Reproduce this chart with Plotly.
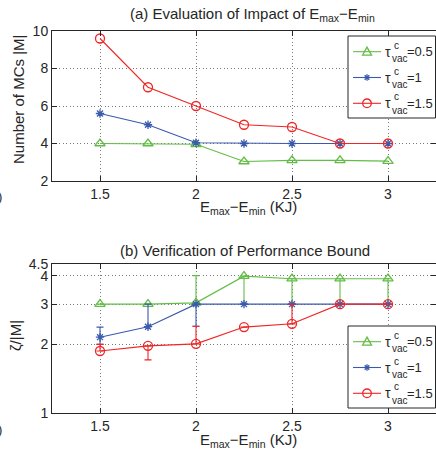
import plotly.graph_objects as go

# ---------------- data ----------------
x_vals = [1.5, 1.75, 2.0, 2.25, 2.5, 2.75, 3.0]
x_ticks = [1.5, 2.0, 2.5, 3.0]
x_ticktext = ["1.5", "2", "2.5", "3"]

# (a) number of MCs |M|
top_green = [4.0, 4.0, 3.96, 3.04, 3.1, 3.1, 3.06]
top_blue = [5.6, 5.0, 4.04, 4.0, 4.0, 4.0, 4.0]
top_red = [9.6, 7.0, 6.0, 5.0, 4.88, 4.0, 4.0]
top_yticks = [2, 4, 6, 8, 10]

# (b) zeta/|M| with asymmetric error bars
bot_green = [3.0, 3.0, 3.04, 3.98, 3.88, 3.88, 3.88]
bot_green_up = [0, 0, 0.96, 0, 0, 0, 0]
bot_green_dn = [0, 0, 0, 0.98, 0.88, 0.88, 0.88]
bot_blue = [2.15, 2.39, 3.0, 3.0, 3.0, 3.0, 3.0]
bot_blue_up = [0.23, 0.61, 0, 0, 0, 0, 0]
bot_blue_dn = [0.15, 0, 0.6, 0, 0, 0, 0]
bot_red = [1.87, 1.97, 2.01, 2.38, 2.46, 3.0, 3.0]
bot_red_up = [0.13, 0, 0.39, 0, 0.54, 0, 0]
bot_red_dn = [0, 0.26, 0, 0, 0, 0, 0]
bot_yticks = [1, 2, 3, 4, 4.5]
bot_yticktext = ["1", "2", "3", "4", "4.5"]

legend_values = ["0.5", "1", "1.5"]

# ---------------- style ----------------
W, H = 436, 455
FONT = "Liberation Sans, Arial, Helvetica, sans-serif"
GREEN = "#62bd45"
BLUE = "#3a5aad"
RED = "#f02525"
COLORS = [GREEN, BLUE, RED]
SYMBOLS = ["triangle-up-open", "asterisk-open", "circle-open"]
SIZES = [9, 7, 9]

def px(x):
    return x / W

def py(y):
    return 1 - y / H

fig = go.Figure()

top_series = [top_green, top_blue, top_red]
for ys, c, s, sz in zip(top_series, COLORS, SYMBOLS, SIZES):
    fig.add_trace(go.Scatter(
        x=x_vals, y=ys, mode="lines+markers", xaxis="x", yaxis="y",
        line=dict(color=c, width=1.1),
        marker=dict(symbol=s, size=sz, color=c, line=dict(color=c, width=1.3)),
        showlegend=False, hoverinfo="skip"))

bot_series = [(bot_green, bot_green_up, bot_green_dn),
              (bot_blue, bot_blue_up, bot_blue_dn),
              (bot_red, bot_red_up, bot_red_dn)]
for (ys, up, dn), c, s, sz in zip(bot_series, COLORS, SYMBOLS, SIZES):
    fig.add_trace(go.Scatter(
        x=x_vals, y=ys, mode="lines+markers", xaxis="x2", yaxis="y2",
        line=dict(color=c, width=1.1),
        marker=dict(symbol=s, size=sz, color=c, line=dict(color=c, width=1.3)),
        error_y=dict(type="data", symmetric=False, array=up, arrayminus=dn,
                     color=c, thickness=1.1, width=3.5),
        showlegend=False, hoverinfo="skip"))

axis_common = dict(
    showline=True, linecolor="#262626", linewidth=1, mirror="ticks",
    ticks="inside", ticklen=5, tickcolor="#262626", tickwidth=1,
    showgrid=True, gridcolor="#7a7a7a", gridwidth=1, griddash="1px,2.5px",
    zeroline=False, automargin=False,
    tickfont=dict(family=FONT, size=14, color="#262626"),
)

top_dom = [py(181), py(31)]
bot_dom = [py(413), py(264)]
x_dom = [px(52), 1.0]

fig.update_layout(
    width=W, height=H, autosize=False,
    margin=dict(l=0, r=0, t=0, b=0, pad=0, autoexpand=False),
    paper_bgcolor="white", plot_bgcolor="rgba(0,0,0,0)",
    font=dict(family=FONT, color="#262626"),
    xaxis=dict(domain=x_dom, range=[1.25, 3.25], anchor="y",
               tickvals=x_ticks, ticktext=x_ticktext, **axis_common),
    yaxis=dict(domain=top_dom, range=[2, 10], anchor="x",
               tickvals=top_yticks, **axis_common),
    xaxis2=dict(domain=x_dom, range=[1.25, 3.25], anchor="y2",
                tickvals=x_ticks, ticktext=x_ticktext, **axis_common),
    yaxis2=dict(domain=bot_dom, type="log", range=[0, 0.6532125], anchor="x2",
                tickvals=bot_yticks, ticktext=bot_yticktext, **axis_common),
)

annotations = []
shapes = []

def text(x, y, t, size, xanchor="center", yanchor="middle", angle=0):
    annotations.append(dict(
        x=px(x), y=py(y), xref="paper", yref="paper", text=t, showarrow=False,
        xanchor=xanchor, yanchor=yanchor, textangle=angle,
        font=dict(family=FONT, size=size, color="#262626")))

# titles
text(252, 15, "(a) Evaluation of Impact of E<sub>max</sub>−E<sub>min</sub>", 15)
text(245, 250, "(b) Verification of Performance Bound", 15)
text(248, 208, "E<sub>max</sub>−E<sub>min</sub> (KJ)", 15)
text(248, 440, "E<sub>max</sub>−E<sub>min</sub> (KJ)", 15)
text(18, 100, "Number of MCs |M|", 15, angle=-90)
text(15, 336, "ζ/|M|", 15, angle=-90)
# clipped fragments at the left edge
text(0, 196, ")", 13)
text(0, 429, ")", 13)

# custom legends (stacked super/subscript)
for top in (36, 326):
    shapes.append(dict(type="rect", xref="paper", yref="paper",
                       x0=px(348), x1=px(435.5), y0=py(top), y1=py(top + 82),
                       line=dict(color="#262626", width=1), fillcolor="white",
                       layer="above"))
    for i, (c, val) in enumerate(zip(COLORS, legend_values)):
        yc = top + 15.7 + 25.8 * i
        shapes.append(dict(type="line", xref="paper", yref="paper",
                           x0=px(353), x1=px(381), y0=py(yc), y1=py(yc),
                           line=dict(color=c, width=1.1), layer="above"))
        mx = 367
        if i == 0:
            shapes.append(dict(type="path", xref="paper", yref="paper",
                               path=f"M {px(mx-4.5)},{py(yc+3.5)} L {px(mx)},{py(yc-4.5)} L {px(mx+4.5)},{py(yc+3.5)} Z",
                               line=dict(color=c, width=1.3), fillcolor="rgba(0,0,0,0)",
                               layer="above"))
        elif i == 1:
            for dx, dy in [(3.2, 0), (0, 3.2), (2.3, 2.3), (2.3, -2.3)]:
                shapes.append(dict(type="line", xref="paper", yref="paper",
                                   x0=px(mx - dx), x1=px(mx + dx),
                                   y0=py(yc - dy), y1=py(yc + dy),
                                   line=dict(color=c, width=1.3), layer="above"))
        else:
            shapes.append(dict(type="circle", xref="paper", yref="paper",
                               x0=px(mx - 4.3), x1=px(mx + 4.3),
                               y0=py(yc - 4.3), y1=py(yc + 4.3),
                               line=dict(color=c, width=1.3), layer="above"))
        text(383, yc, "τ", 14, xanchor="left")
        text(392, yc - 6.5, "c", 10, xanchor="left")
        text(390, yc + 7, "vac", 10, xanchor="left")
        text(405, yc, "=" + val, 13, xanchor="left")

fig.update_layout(annotations=annotations, shapes=shapes)

fig.write_html("out.html",
               config=dict(displayModeBar=False),
               post_script="document.body.style.margin='0px';document.body.style.overflow='hidden';")
